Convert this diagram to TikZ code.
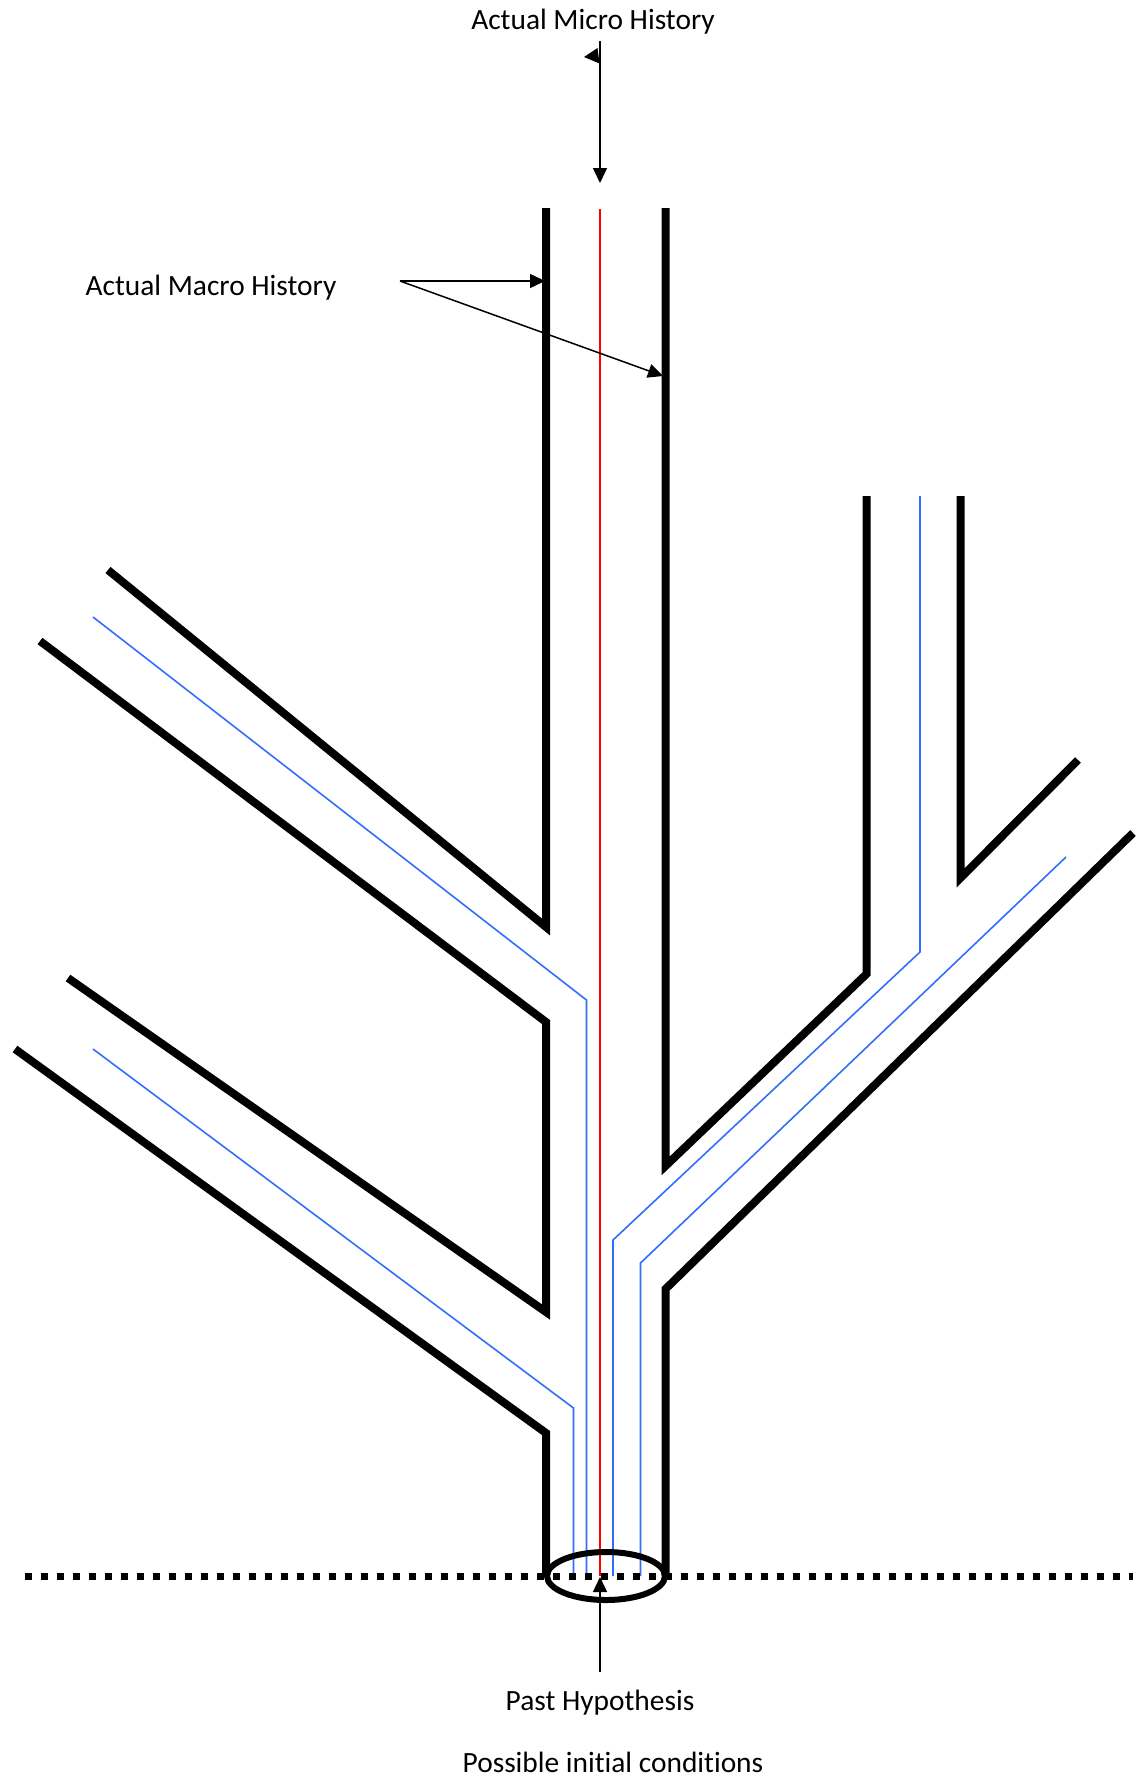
\documentclass[tikz,border=0pt]{standalone}
\usepackage{fontspec}
\setmainfont{Carlito}[Ligatures={NoCommon}]
\usetikzlibrary{arrows.meta}
\begin{document}
\begin{tikzpicture}[x=1pt,y=-1pt,
  wall/.style={line width=8pt, line join=miter, line cap=butt},
  micro/.style={line width=1.6pt, red},
  alt/.style={line width=1.6pt, color={rgb,255:red,50;green,110;blue,250}},
  pointer/.style={line width=1.5pt, -{Triangle[length=15pt,width=14pt]}},
  label/.style={font=\fontsize{29.4}{33}\selectfont, anchor=base, inner sep=0pt}]
\useasboundingbox (0,0) rectangle (1139,1781);
% labels
\node[label] (microlbl) at (593,29) {Actual Micro History};
\node[label] (macrolbl) at (211,295) {Actual Macro History};
\node[label] (pastlbl) at (600,1710) {Past Hypothesis};
\node[label] (possiblelbl) at (613,1772) {Possible initial conditions};
% coordinates
\coordinate (microstart) at (600,41);
\coordinate (microtip) at (600,183);
\coordinate (macrostart) at (400,281);
\coordinate (macrotipA) at (545,281);
\coordinate (macrotipB) at (663,376);
\coordinate (paststart) at (600,1672);
\coordinate (pasttip) at (600,1577);
% walls
\draw[wall] (108,570) -- (546,927) -- (546,208);
\draw[wall] (40,641) -- (546,1022) -- (546,1312) -- (68,978);
\draw[wall] (15,1049) -- (546,1433) -- (546,1576);
\draw[wall] (665.5,208) -- (665.5,1166) -- (866.5,974) -- (866.5,496);
\draw[wall] (960.5,496) -- (960.5,878) -- (1078,760);
\draw[wall] (1133,833) -- (665.5,1289) -- (665.5,1576);
% alternative micro histories
\draw[alt] (93,1049) -- (573.5,1408) -- (573.5,1576);
\draw[alt] (93,617) -- (586.5,1000) -- (586.5,1576);
\draw[alt] (920,496) -- (920,952) -- (613,1240) -- (613,1576);
\draw[alt] (1066,857) -- (640.5,1263) -- (640.5,1576);
% actual micro history
\draw[micro] (600,209) -- (600,1576);
% initial conditions
\draw[line width=6pt] (606,1576) ellipse [x radius=59, y radius=24];
\draw[line width=7pt, dash pattern=on 7pt off 9pt] (25,1576) -- (1133,1576);
% pointers
\draw[pointer] (microstart) -- (microtip);
\fill (584,57) -- (597.5,48) -- (599.5,63.5) -- cycle;
\draw[pointer] (macrostart) -- (macrotipA);
\draw[pointer] (macrostart) -- (macrotipB);
\draw[pointer] (paststart) -- (pasttip);
\end{tikzpicture}
\end{document}
